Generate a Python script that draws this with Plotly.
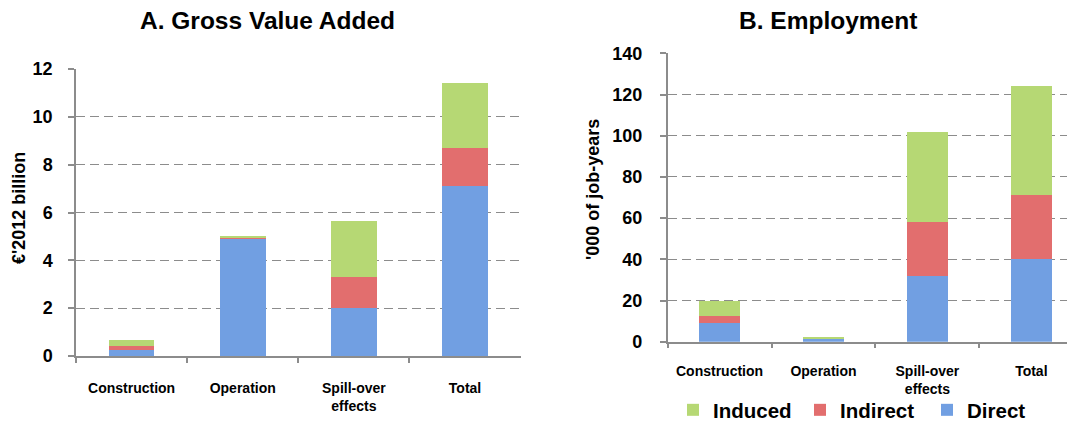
import plotly.graph_objects as go

categories = ["Construction", "Operation", "Spill-over<br>effects", "Total"]

# Panel A: Gross Value Added (€'2012 billion)
gva_direct = [0.25, 4.9, 2.0, 7.1]
gva_indirect = [0.15, 0.07, 1.3, 1.6]
gva_induced = [0.28, 0.03, 2.35, 2.7]

# Panel B: Employment ('000 of job-years)
emp_direct = [9.0, 1.2, 32.0, 40.0]
emp_indirect = [3.7, 0.3, 26.0, 31.0]
emp_induced = [7.3, 0.5, 44.0, 53.0]

series_names = ["Direct", "Indirect", "Induced"]
series_colors = ["#719fe2", "#e26e6e", "#b6d874"]

# the page body has an 8px margin: work in page pixels and convert
OFF = 8
W, H = 1075 - OFF, 423 - OFF
def fx(px):
    return (px - OFF) / W
def fy(py):
    return 1 - (py - OFF) / H

FONT = "Liberation Sans, Arial, sans-serif"
GRID = "#8c8c8c"
AX = "#8c8c8c"

fig = go.Figure()

for vals, name, col in zip([gva_direct, gva_indirect, gva_induced], series_names, series_colors):
    fig.add_trace(go.Bar(x=categories, y=vals, name=f"<b>{name}</b>", marker=dict(color=col, line=dict(width=0)),
                         width=0.41, xaxis="x", yaxis="y", showlegend=True, legendgroup=name))
for vals, name, col in zip([emp_direct, emp_indirect, emp_induced], series_names, series_colors):
    fig.add_trace(go.Bar(x=categories, y=vals, name=f"<b>{name}</b>", marker=dict(color=col, line=dict(width=0)),
                         width=0.40, xaxis="x2", yaxis="y2", showlegend=False, legendgroup=name))

xcommon = dict(type="category", categoryorder="array", categoryarray=categories,
               showline=True, linecolor=AX, linewidth=1.5, ticks="outside", tickson="boundaries",
               ticklen=5, tickcolor=AX, tickwidth=1.5, showgrid=False,
               tickprefix="<b>", ticksuffix="</b>",
               tickfont=dict(family=FONT, size=14, color="black"))
ycommon = dict(showline=True, linecolor=AX, linewidth=1.5, ticks="outside", ticklen=6,
               tickcolor=AX, tickwidth=1.5, showgrid=True, gridcolor=GRID, gridwidth=1.3,
               griddash="9px,5px", zeroline=False,
               tickprefix="<b>", ticksuffix="</b>",
               tickfont=dict(family=FONT, size=18, color="black"))

fig.update_layout(
    width=W, height=H,
    barmode="stack",
    paper_bgcolor="white", plot_bgcolor="white",
    margin=dict(l=0, r=0, t=0, b=0, autoexpand=False),
    font=dict(family=FONT, color="black"),
    xaxis=dict(domain=[fx(76), fx(520.6)], range=[-0.5, 3.5], anchor="y",
               ticklabelstandoff=18, **xcommon),
    yaxis=dict(domain=[fy(356), fy(69)], range=[0, 12], dtick=2, anchor="x",
               ticklabelstandoff=12, **ycommon),
    xaxis2=dict(domain=[fx(667.6), 1.0], range=[-0.5, 3.42], anchor="y2",
                ticklabelstandoff=16, **xcommon),
    yaxis2=dict(domain=[fy(341.7), fy(53.3)], range=[0, 140], dtick=20, anchor="x2",
                ticklabelstandoff=14, **ycommon),
    bargap=0.59,
    legend=dict(orientation="h", x=fx(673), xanchor="left", y=fy(410), yanchor="middle",
                traceorder="reversed", font=dict(family=FONT, size=20.5, color="black"),
                entrywidth=82, entrywidthmode="pixels",
                bgcolor="rgba(0,0,0,0)", itemclick=False),
    annotations=[
        dict(text="<b>A. Gross Value Added</b>", x=fx(267), y=fy(21), xref="paper", yref="paper",
             showarrow=False, xanchor="center", yanchor="middle",
             font=dict(family=FONT, size=24.5, color="black")),
        dict(text="<b>B. Employment</b>", x=fx(828), y=fy(21), xref="paper", yref="paper",
             showarrow=False, xanchor="center", yanchor="middle",
             font=dict(family=FONT, size=24.5, color="black")),
        dict(text="<b>€'2012 billion</b>", x=fx(19), y=fy(208), xref="paper", yref="paper",
             showarrow=False, xanchor="center", yanchor="middle", textangle=-90,
             font=dict(family=FONT, size=18, color="black")),
        dict(text="<b>'000 of job-years</b>", x=fx(593), y=fy(190), xref="paper", yref="paper",
             showarrow=False, xanchor="center", yanchor="middle", textangle=-90,
             font=dict(family=FONT, size=18, color="black")),
    ],
)

fig.write_html("out.html")
